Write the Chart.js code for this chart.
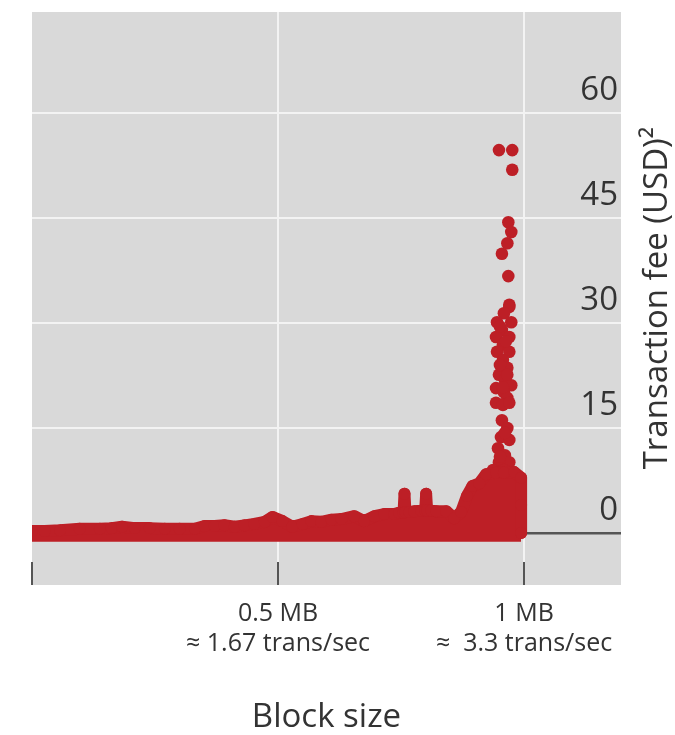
<!DOCTYPE html>
<html><head><meta charset="utf-8">
<script src="https://cdn.jsdelivr.net/npm/chart.js@4"></script>
<style>html,body{margin:0;padding:0;background:#fff}#wrap{width:675px;height:735px}</style>
</head><body><div id="wrap"><canvas id="c" width="675" height="735"></canvas></div>
<script>
// ---- data (block size in MB, transaction fee in USD) ----
const xTickValues = [0, 0.5, 1];
const xTickLabels = [[""], ["0.5 MB", "≈ 1.67 trans/sec"], ["1 MB", "≈  3.3 trans/sec"]];
const yTickValues = [0, 15, 30, 45, 60];
const xTitle = "Block size";
const yTitle = "Transaction fee (USD)²";

// upper envelope of the dense cloud of blocks
const bandX = [0.000,0.026,0.057,0.097,0.138,0.162,0.183,0.209,0.239,0.270,0.300,0.331,0.351,0.371,0.391,0.412,0.432,0.452,0.473,0.489,0.509,0.529,0.550,0.568,0.588,0.609,0.629,0.655,0.675,0.696,0.716,0.736,0.746,0.755,0.757,0.759,0.767,0.777,0.791,0.799,0.801,0.803,0.811,0.822,0.842,0.858,0.872,0.884,0.895,0.909,0.923,0.943,0.959,0.980,0.994,0.994,0.994];
const bandY = [0.3,0.3,0.4,0.6,0.6,0.7,0.9,0.7,0.7,0.6,0.6,0.6,1.0,1.0,1.1,0.9,1.1,1.3,1.6,2.3,1.7,0.9,1.3,1.7,1.6,1.9,2.0,2.4,1.7,2.4,2.7,2.7,2.9,2.9,5.6,3.0,3.0,3.1,3.2,3.2,5.6,3.2,3.2,3.1,3.1,2.1,3.0,5.3,6.7,7.1,8.4,8.6,8.6,8.7,7.9,4.0,0.0];
const bandFloor = -1.25;

// individual high-fee blocks near 1 MB
const spikeX = [0.949,0.976,0.976,0.968,0.974,0.966,0.955,0.968,0.970,0.970,0.959,0.945,0.974,0.955,0.943,0.970,0.957,0.945,0.970,0.957,0.966,0.949,0.961,0.974,0.943,0.959,0.966,0.943,0.957,0.970,0.955,0.966,0.953,0.970,0.947,0.961,0.970,0.949,0.937,0.959,0.929,0.951,0.963,0.951,0.966,0.957,0.961,0.951];
const spikeY = [54.7,54.7,51.9,44.4,43.0,41.4,39.9,36.7,32.6,32.3,31.4,30.1,30.1,29.0,28.0,28.0,26.9,25.9,25.9,24.7,23.6,22.6,21.9,21.1,20.7,20.1,19.3,18.6,18.3,18.6,16.1,15.0,13.7,13.3,12.1,11.1,10.1,10.1,9.0,9.0,8.3,29.5,27.4,24.0,22.6,20.8,14.3,10.9];

const RED = '#bd1f26';
const FONT = 'Open Sans';

const bgPlugin = {
  id: 'bg',
  beforeDraw(chart) {
    const a = chart.chartArea, c = chart.ctx;
    c.save();
    c.fillStyle = '#d9d9d9';
    c.fillRect(a.left, a.top, a.right - a.left, a.bottom - a.top + 23);
    c.restore();
  }
};
const yTitlePlugin = {
  id: 'ytitle',
  afterDraw(chart) {
    const a = chart.chartArea, c = chart.ctx;
    c.save();
    c.translate(a.right + 37, (a.top + a.bottom) / 2 + 11);
    c.rotate(-Math.PI / 2);
    c.font = '33px "' + FONT + '"';
    c.fillStyle = '#333';
    c.textAlign = 'center';
    c.textBaseline = 'middle';
    c.fillText(yTitle, 0, 0);
    c.restore();
  }
};
const noPad = s => { s.paddingTop = 0; s.paddingBottom = 0; s.paddingLeft = 0; s.paddingRight = 0; };

new Chart(document.getElementById('c'), {
  type: 'scatter',
  data: {
    datasets: [
      {
        data: bandX.map((x, i) => ({x, y: bandY[i]})),
        showLine: true,
        borderColor: RED,
        backgroundColor: RED,
        borderWidth: 12,
        borderJoinStyle: 'round',
        borderCapStyle: 'round',
        fill: {value: bandFloor},
        pointRadius: 6,
        pointBackgroundColor: RED,
        pointBorderWidth: 0,
        clip: 0,
        tension: 0
      },
      {
        data: spikeX.map((x, i) => ({x, y: spikeY[i]})),
        pointRadius: 6.3,
        pointBackgroundColor: RED,
        pointBorderWidth: 0,
        backgroundColor: RED
      }
    ]
  },
  options: {
    responsive: false,
    animation: false,
    devicePixelRatio: 1,
    layout: {padding: {left: 32, top: 12, right: 54, bottom: 0}},
    plugins: {legend: {display: false}, tooltip: {enabled: false}},
    scales: {
      x: {
        type: 'linear', min: 0, max: 1.197,
        afterBuildTicks: s => { s.ticks = xTickValues.map(v => ({value: v})); },
        afterFit: s => { noPad(s); s.height = 173; },
        grid: {
          color: ctx => (ctx.tick && ctx.tick.value === 0) ? 'rgba(0,0,0,0)' : '#f3f3f3',
          lineWidth: 2, tickLength: 23, tickColor: '#555', tickWidth: 2
        },
        border: {display: false},
        ticks: {
          padding: 14, color: '#333', maxRotation: 0, autoSkip: false,
          font: {family: FONT, size: 25, lineHeight: 1.2},
          callback: v => xTickLabels[xTickValues.indexOf(v)]
        },
        title: {display: true, text: xTitle, color: '#333', font: {family: FONT, size: 33, lineHeight: 1.05}, padding: {top: 36, bottom: 0}}
      },
      y: {
        type: 'linear', position: 'right', min: -4.14, max: 74.43,
        afterBuildTicks: s => { s.ticks = yTickValues.map(v => ({value: v})); },
        afterFit: s => { noPad(s); s.width = 0; },
        grid: {
          color: ctx => (ctx.tick && ctx.tick.value === 0) ? '#555' : '#f3f3f3',
          lineWidth: ctx => (ctx.tick && ctx.tick.value === 0) ? 2.5 : 2,
          drawTicks: false
        },
        border: {display: false},
        ticks: {mirror: true, padding: -3, labelOffset: -22, color: '#333', font: {family: FONT, size: 33}}
      }
    }
  },
  plugins: [bgPlugin, yTitlePlugin]
});
</script></body></html>
